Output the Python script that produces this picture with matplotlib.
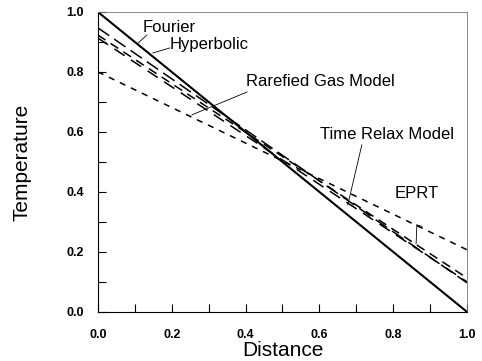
import numpy as np
import matplotlib
matplotlib.use("Agg")
import matplotlib.pyplot as plt

plt.rcParams['font.family'] = ['Liberation Sans', 'DejaVu Sans']

# distance end points and temperature at each end
x_ends = [0.0, 1.0]
fourier = [1.0, 0.0]
hyperbolic = [0.947, 0.097]
rarefied = [0.923, 0.113]
time_relax = [0.913, 0.100]
eprt = [0.80, 0.207]

ticks = [0.0, 0.2, 0.4, 0.6, 0.8, 1.0]
minor = [0.1, 0.3, 0.5, 0.7, 0.9]

fig = plt.figure(figsize=(4.82, 3.61), dpi=100)
ax = fig.add_axes([0.203, 0.136, 0.766, 0.831])

ax.plot(x_ends, fourier, color='black', lw=1.5)
ax.plot(x_ends, hyperbolic, color='black', lw=1.1, dashes=(9, 4))
ax.plot(x_ends, rarefied, color='black', lw=1.1, dashes=(6, 4))
ax.plot(x_ends, time_relax, color='black', lw=1.1, dashes=(8, 5))
ax.plot(x_ends, eprt, color='black', lw=1.1, dashes=(4, 4))

ax.set_xlim(0, 1)
ax.set_ylim(0, 1)
ax.set_xticks(ticks)
ax.set_yticks(ticks)
ax.set_xticks(minor, minor=True)
ax.set_yticks(minor, minor=True)
ax.tick_params(which='both', direction='in', length=6, width=0.8)
ax.tick_params(axis='x', pad=12)
ax.tick_params(axis='y', pad=10)
for lab in ax.get_xticklabels() + ax.get_yticklabels():
    lab.set_fontsize(9)
    lab.set_fontweight('bold')
for s in ['top', 'right']:
    ax.spines[s].set_linewidth(0.6)
    ax.spines[s].set_color('#777777')

ax.set_xlabel('Distance', fontsize=15, va='center')
ax.set_ylabel('Temperature', fontsize=15, va='center')
ax.xaxis.set_label_coords(0.5, -0.13)
ax.yaxis.set_label_coords(-0.206, 0.5)

fs = 12
ax.text(0.120, 0.948, 'Fourier', fontsize=fs, va='center')
ax.plot([0.133, 0.108], [0.923, 0.895], color='black', lw=0.6)
ax.text(0.195, 0.890, 'Hyperbolic', fontsize=fs, va='center')
ax.plot([0.195, 0.149], [0.880, 0.863], color='black', lw=0.6)
ax.text(0.400, 0.768, 'Rarefied Gas Model', fontsize=fs, va='center')
ax.plot([0.404, 0.255], [0.733, 0.657], color='black', lw=0.6)
ax.text(0.602, 0.592, 'Time Relax Model', fontsize=fs, va='center')
ax.plot([0.715, 0.677], [0.557, 0.357], color='black', lw=0.6)
ax.text(0.805, 0.395, 'EPRT', fontsize=fs, va='center')
ax.plot([0.864, 0.862], [0.290, 0.227], color='black', lw=0.6)
ax.plot([0.864, 0.878], [0.290, 0.285], color='black', lw=0.6)

fig.savefig('out.png', dpi=100)
